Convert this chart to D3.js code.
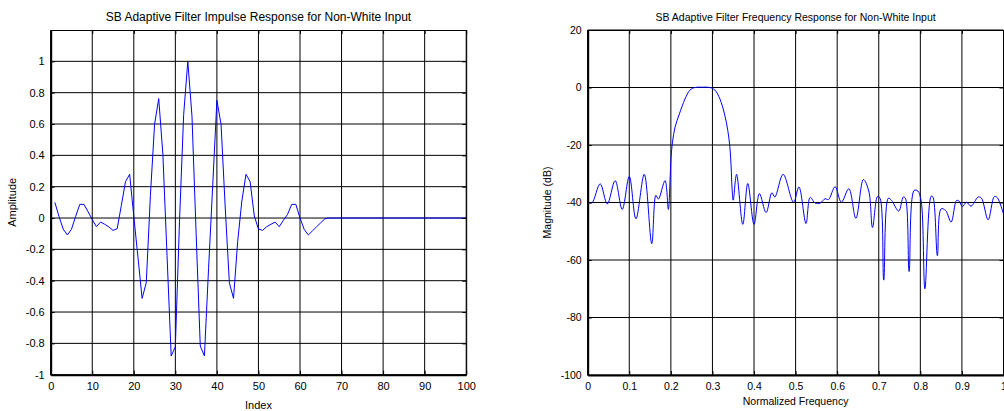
<!DOCTYPE html>
<html>
<head>
<meta charset="utf-8">
<script src="https://cdn.jsdelivr.net/npm/d3@7"></script>
<style>
  body { margin: 0; background: #fff; }
  svg { display: block; font-family: "Liberation Sans", Arial, sans-serif; }
</style>
</head>
<body>
<svg id="chart" width="1004" height="411"></svg>
<script>
// Impulse response taps, index 1..100
const impulseIndex = d3.range(1, 101);
const impulseAmp = [
  0.10, 0.01, -0.07, -0.108, -0.072, 0.01, 0.087, 0.087, 0.04, -0.01,
  -0.055, -0.026, -0.04, -0.057, -0.079, -0.068, 0.08, 0.232, 0.279, 0.01,
  -0.25, -0.513, -0.413, 0.145, 0.598, 0.762, 0.406, -0.24, -0.881, -0.821,
  -0.02, 0.66, 1.0, 0.65, -0.10, -0.817, -0.88, -0.32, 0.21, 0.751,
  0.598, 0.07, -0.413, -0.513, -0.15, 0.108, 0.279, 0.232, 0.013, -0.07,
  -0.079, -0.055, -0.04, -0.026, -0.055, -0.015, 0.023, 0.087, 0.087, 0.0,
  -0.072, -0.108, -0.082, -0.056, -0.03, -0.005, 0, 0, 0, 0,
  0, 0, 0, 0, 0, 0, 0, 0, 0, 0,
  0, 0, 0, 0, 0, 0, 0, 0, 0, 0,
  0, 0, 0, 0, 0, 0, 0, 0, 0, 0
];

// Magnitude response (dB) against normalized frequency
const normFreq = [
  0.000, 0.010, 0.030, 0.047, 0.066, 0.083, 0.100, 0.116, 0.136, 0.154,
  0.164, 0.170, 0.186, 0.194, 0.198, 0.2005, 0.204, 0.210, 0.2205, 0.234,
  0.246, 0.258, 0.276, 0.294, 0.306, 0.318, 0.329, 0.337, 0.342, 0.345,
  0.347, 0.350, 0.358, 0.373, 0.385, 0.400, 0.413, 0.429, 0.443, 0.450,
  0.470, 0.495, 0.508, 0.525, 0.535, 0.547, 0.559, 0.571, 0.579, 0.595,
  0.610, 0.628, 0.645, 0.663, 0.676, 0.685, 0.697, 0.703, 0.712, 0.723,
  0.731, 0.748, 0.759, 0.764, 0.773, 0.785, 0.794, 0.802, 0.811, 0.826,
  0.830, 0.841, 0.850, 0.861, 0.874, 0.887, 0.893, 0.901, 0.911, 0.922,
  0.939, 0.947, 0.963, 0.978, 0.985, 1.000
];
const magDb = [
  -39.8, -40.1, -33.5, -40.5, -32.4, -42.4, -30.9, -45.7, -30.2, -54.3,
  -37.5, -38.8, -32.4, -42.4, -32.3, -24.2, -19.0, -13.8, -9.2, -4.0,
  -0.9, 0.0, 0.1, 0.0, -0.9, -4.0, -9.2, -15.0, -20.8, -27.7,
  -34.6, -39.2, -30.2, -47.6, -33.4, -47.6, -36.9, -43.5, -36.6, -38.1,
  -30.2, -39.9, -34.6, -47.3, -38.2, -40.2, -40.2, -38.7, -39.0, -34.5,
  -39.9, -35.2, -45.5, -32.0, -36.0, -48.7, -37.9, -38.5, -67.0, -38.5,
  -39.3, -43.0, -38.1, -38.5, -64.0, -35.8, -36.0, -39.5, -70.0, -37.8,
  -38.0, -58.5, -42.2, -42.8, -46.8, -39.3, -39.5, -41.4, -39.9, -41.3,
  -38.1, -38.5, -46.0, -37.9, -38.3, -44.0
];

// Tick values
const impulseXTicks = [0, 10, 20, 30, 40, 50, 60, 70, 80, 90, 100];
const impulseYTicks = [-1, -0.8, -0.6, -0.4, -0.2, 0, 0.2, 0.4, 0.6, 0.8, 1];
const freqXTicks = [0, 0.1, 0.2, 0.3, 0.4, 0.5, 0.6, 0.7, 0.8, 0.9, 1];
const freqYTicks = [-100, -80, -60, -40, -20, 0, 20];

const svg = d3.select("#chart");

function drawPanel(opt) {
  const x = d3.scaleLinear().domain(opt.xDomain).range([opt.left, opt.right]);
  const y = d3.scaleLinear().domain(opt.yDomain).range([opt.bottom, opt.top]);
  const g = svg.append("g");

  // grid
  g.append("g").selectAll("line").data(opt.xTicks).join("line")
    .attr("x1", d => x(d)).attr("x2", d => x(d))
    .attr("y1", opt.top).attr("y2", opt.bottom)
    .attr("stroke", "#000").attr("stroke-width", 1);
  g.append("g").selectAll("line").data(opt.yTicks).join("line")
    .attr("x1", opt.left).attr("x2", opt.right)
    .attr("y1", d => y(d)).attr("y2", d => y(d))
    .attr("stroke", "#000").attr("stroke-width", 1);

  // data line
  const clipId = "clip-" + opt.id;
  svg.append("clipPath").attr("id", clipId).append("rect")
    .attr("x", opt.left).attr("y", opt.top)
    .attr("width", opt.right - opt.left).attr("height", opt.bottom - opt.top);
  const line = d3.line().x(d => x(d[0])).y(d => y(d[1])).curve(opt.curve);
  g.append("path")
    .datum(d3.zip(opt.xs, opt.ys))
    .attr("clip-path", `url(#${clipId})`)
    .attr("d", line)
    .attr("fill", "none").attr("stroke", "#0000ff").attr("stroke-width", 1);

  // axes: bottom/left with inward ticks, mirrored on top/right
  const axB = d3.axisBottom(x).tickValues(opt.xTicks).tickSizeInner(-4).tickSizeOuter(0).tickPadding(8).tickFormat(d => String(d));
  const axT = d3.axisTop(x).tickValues(opt.xTicks).tickSizeInner(-4).tickSizeOuter(0).tickFormat("");
  const axL = d3.axisLeft(y).tickValues(opt.yTicks).tickSizeInner(-4).tickSizeOuter(0).tickPadding(6).tickFormat(d => String(d));
  const axR = d3.axisRight(y).tickValues(opt.yTicks).tickSizeInner(-4).tickSizeOuter(0).tickFormat("");
  const gb = g.append("g").attr("transform", `translate(0,${opt.bottom})`).call(axB);
  const gt = g.append("g").attr("transform", `translate(0,${opt.top})`).call(axT);
  const gl = g.append("g").attr("transform", `translate(${opt.left},0)`).call(axL);
  const gr = g.append("g").attr("transform", `translate(${opt.right},0)`).call(axR);
  [gb, gt, gl, gr].forEach(a => {
    a.select(".domain").attr("stroke", "#000");
    a.selectAll(".tick line").attr("stroke", "#000");
    a.selectAll("text").attr("fill", "#000")
      .style("font-family", "'Liberation Sans', Arial, sans-serif")
      .style("font-size", opt.fs + "px");
  });
  gb.select(".domain").attr("stroke-width", 2);
  gl.select(".domain").attr("stroke-width", 2);

  // titles and labels
  g.append("text").attr("x", (opt.left + opt.right) / 2).attr("y", opt.titleY)
    .attr("text-anchor", "middle").style("font-size", opt.titleFs + "px").text(opt.title);
  g.append("text").attr("x", (opt.left + opt.right) / 2).attr("y", opt.xLabelY)
    .attr("text-anchor", "middle").style("font-size", opt.fs + "px").text(opt.xLabel);
  g.append("text")
    .attr("transform", `translate(${opt.yLabelX},${(opt.top + opt.bottom) / 2}) rotate(-90)`)
    .attr("text-anchor", "middle").style("font-size", opt.fs + "px").text(opt.yLabel);
}

drawPanel({
  id: "imp",
  left: 50.7, right: 466.2, top: 30, bottom: 374.7,
  xDomain: [0, 100], yDomain: [-1, 1.2],
  xTicks: impulseXTicks, yTicks: impulseYTicks,
  xs: impulseIndex, ys: impulseAmp, curve: d3.curveLinear,
  title: "SB Adaptive Filter Impulse Response for Non-White Input",
  xLabel: "Index", yLabel: "Amplitude",
  fs: 11, titleFs: 12, titleY: 21, xLabelY: 409, yLabelX: 16
});

drawPanel({
  id: "freq",
  left: 587.7, right: 1003.5, top: 30, bottom: 375,
  xDomain: [0, 1], yDomain: [-100, 20],
  xTicks: freqXTicks, yTicks: freqYTicks,
  xs: normFreq, ys: magDb, curve: d3.curveCatmullRom.alpha(0.5),
  title: "SB Adaptive Filter Frequency Response for Non-White Input",
  xLabel: "Normalized Frequency", yLabel: "Magnitude (dB)",
  fs: 10.5, titleFs: 10.5, titleY: 20.5, xLabelY: 405, yLabelX: 551
});
</script>
</body>
</html>
